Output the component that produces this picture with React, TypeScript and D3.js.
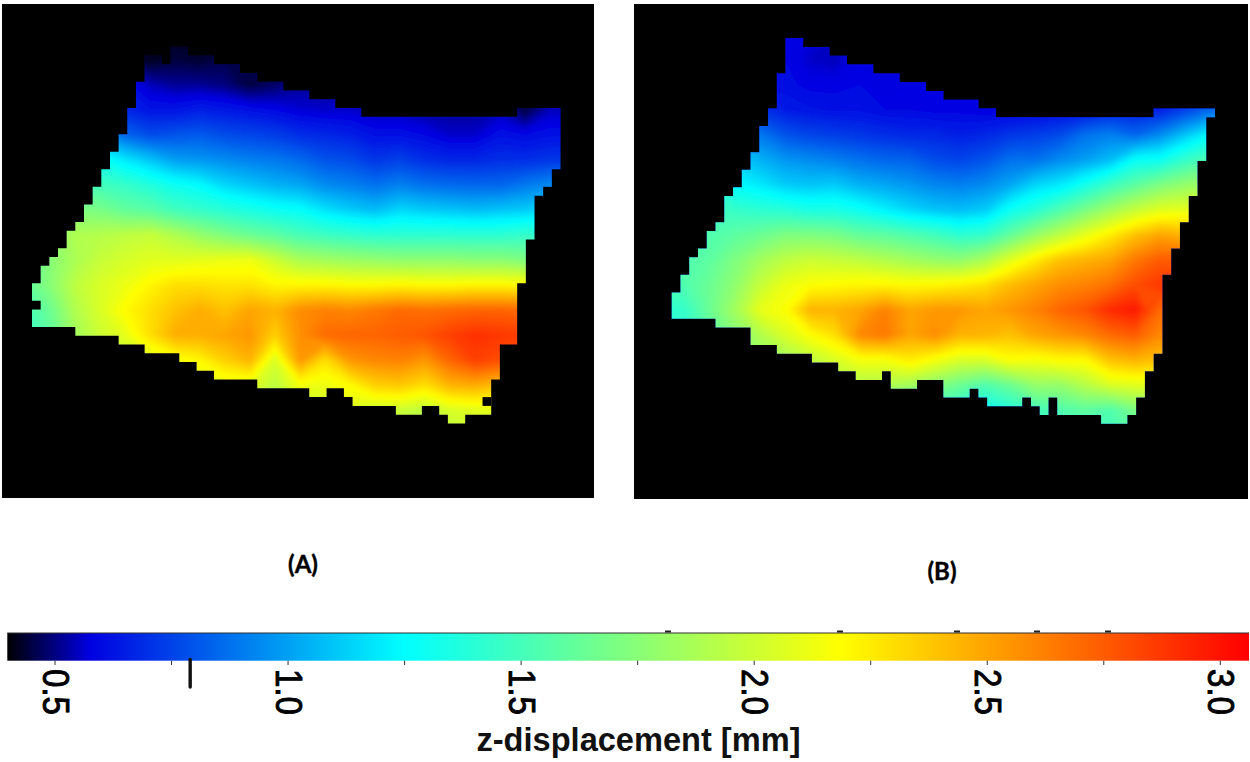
import React from 'react';
import * as d3 from 'd3';

// z-displacement, rows top to bottom
const gridRows = [35, 60, 85, 110, 135, 160, 185, 210, 235, 260, 285, 310, 335, 360, 385, 410, 435];
const gridColsA = d3.range(25, 576, 25);
const gridColsB = d3.range(660, 1236, 25);

const valuesA = [
  [.45,.45,.45,.45,.45,.44,.43,.42,.44,.46,.48,.5,.5,.5,.5,.5,.5,.5,.5,.5,.5,.5,.5],
  [.5,.5,.5,.5,.5,.42,.45,.44,.46,.46,.48,.5,.5,.5,.5,.5,.5,.5,.5,.5,.5,.5,.5],
  [.8,.8,.8,.7,.62,.55,.52,.52,.5,.45,.48,.52,.52,.52,.5,.5,.5,.5,.5,.5,.48,.5,.5],
  [1,1,.95,.85,.68,.63,.63,.66,.64,.62,.6,.57,.56,.56,.54,.54,.52,.52,.52,.54,.45,.55,.55],
  [1.2,1.2,1.1,1,.85,.78,.8,.82,.78,.76,.74,.7,.68,.66,.62,.62,.6,.56,.56,.62,.6,.62,.62],
  [1.4,1.4,1.35,1.3,1.2,1.1,1,.98,.95,.92,.9,.86,.8,.78,.72,.75,.7,.68,.68,.7,.7,.72,.72],
  [1.6,1.6,1.55,1.5,1.45,1.38,1.3,1.25,1.15,1.1,1.05,1.02,.95,.92,.88,.92,.88,.86,.85,.85,.9,.95,.95],
  [1.7,1.7,1.72,1.7,1.62,1.58,1.5,1.45,1.4,1.35,1.3,1.27,1.18,1.12,1.08,1.15,1.12,1.1,1.08,1.1,1.12,1.15,1.15],
  [1.75,1.75,1.9,1.92,1.95,1.98,1.9,1.8,1.72,1.65,1.6,1.52,1.48,1.45,1.42,1.42,1.42,1.42,1.42,1.42,1.45,1.45,1.45],
  [1.6,1.75,1.88,1.98,2.04,2.08,2.08,2.1,2.12,2.13,2,1.88,1.85,1.82,1.8,1.78,1.78,1.78,1.76,1.76,1.72,1.72,1.72],
  [1.6,1.75,1.95,2.05,2.12,2.22,2.3,2.3,2.28,2.28,2.22,2.22,2.22,2.2,2.2,2.22,2.2,2.2,2.22,2.22,2.2,2.1,2.1],
  [1.5,1.65,1.9,2.05,2.2,2.3,2.4,2.47,2.4,2.5,2.45,2.58,2.62,2.6,2.65,2.7,2.68,2.7,2.72,2.72,2.7,2.7,2.7],
  [1.45,1.6,1.85,2,2.1,2.3,2.47,2.47,2.5,2.55,2.35,2.58,2.7,2.72,2.72,2.75,2.78,2.85,2.9,2.88,2.85,2.85,2.85],
  [1.5,1.6,1.8,1.9,1.95,2.05,2.15,2.22,2.35,2.45,2.05,2.55,2.3,2.55,2.6,2.62,2.55,2.72,2.85,2.8,2.7,2.7,2.7],
  [1.9,1.9,1.9,1.9,1.9,1.9,1.95,2.05,2.1,2.1,1.95,2.15,2.12,2.2,2.35,2.38,2.3,2.45,2.48,2.4,2.4,2.4,2.4],
  [1.9,1.9,1.9,1.9,1.9,1.9,1.9,1.9,1.9,1.9,1.9,1.95,2,2.05,2,2,1.95,2.05,2.08,2.1,2.1,2.1,2.1],
  [1.9,1.9,1.9,1.9,1.9,1.9,1.9,1.9,1.9,1.9,1.9,1.9,1.9,1.9,1.9,1.9,1.9,1.95,2,2,2,2,2],
];

const valuesB = [
  [.6,.6,.6,.6,.6,.6,.58,.56,.58,.58,.58,.58,.58,.58,.58,.58,.58,.58,.58,.58,.58,.58,.58,.58],
  [.6,.6,.6,.6,.6,.6,.56,.55,.59,.59,.59,.59,.59,.59,.59,.59,.59,.59,.59,.59,.59,.59,.59,.59],
  [.8,.8,.8,.7,.62,.61,.59,.59,.6,.58,.59,.6,.6,.62,.62,.62,.62,.62,.62,.62,.62,.62,.62,.62],
  [1,1,.95,.85,.72,.65,.63,.62,.62,.6,.6,.59,.59,.58,.58,.59,.6,.62,.66,.66,.66,.75,.85,.85],
  [1.2,1.2,1.1,1,.9,.8,.76,.74,.72,.7,.68,.68,.66,.68,.72,.74,.78,.88,.92,.85,.95,1.1,1.25,1.25],
  [1.4,1.35,1.25,1.12,1.05,.98,.95,.92,.88,.85,.84,.78,.76,.8,.88,.88,.95,1,1.08,1.28,1.3,1.45,1.55,1.55],
  [1.55,1.5,1.45,1.25,1.2,1.12,1.1,1.12,1.05,1.02,.98,.94,.92,.95,1.02,1.15,1.2,1.33,1.48,1.6,1.72,1.8,1.85,1.85],
  [1.6,1.6,1.5,1.45,1.42,1.4,1.35,1.35,1.3,1.22,1.15,1.1,1.08,1.12,1.3,1.4,1.55,1.7,1.85,1.98,2.08,2.1,2.1,2.1],
  [1.6,1.6,1.55,1.6,1.65,1.72,1.72,1.7,1.62,1.6,1.55,1.5,1.42,1.45,1.62,1.8,1.95,2.1,2.25,2.4,2.5,2.45,2.45,2.45],
  [1.6,1.55,1.6,1.72,1.85,1.95,2,1.98,1.95,1.9,1.85,1.8,1.78,1.88,2.08,2.25,2.4,2.45,2.5,2.65,2.75,2.75,2.75,2.75],
  [1.5,1.55,1.65,1.78,1.98,2.12,2.18,2.2,2.22,2.22,2.2,2.22,2.25,2.3,2.42,2.5,2.58,2.62,2.68,2.8,2.88,2.85,2.85,2.85],
  [1.4,1.45,1.65,1.85,2.1,2.18,2.45,2.45,2.5,2.62,2.5,2.55,2.55,2.5,2.55,2.62,2.72,2.78,2.92,2.98,2.7,2.7,2.7,2.7],
  [1.4,1.45,1.6,1.75,1.9,2.05,2.18,2.3,2.6,2.65,2.5,2.58,2.45,2.45,2.4,2.5,2.55,2.6,2.7,2.75,2.6,2.6,2.6,2.6],
  [1.6,1.6,1.6,1.7,1.8,1.85,1.95,2.05,2.15,2.15,2.25,2.15,2.05,2.05,2.18,2.15,2.2,2.2,2.4,2.45,2.4,2.4,2.4,2.4],
  [1.7,1.7,1.7,1.7,1.8,1.8,1.85,1.9,1.9,1.9,1.85,1.75,1.65,1.55,1.65,1.8,1.8,1.92,2.05,2.08,2.1,2.1,2.1,2.1],
  [1.6,1.6,1.6,1.6,1.6,1.6,1.6,1.6,1.6,1.6,1.5,1.45,1.4,1.3,1.38,1.5,1.55,1.6,1.55,1.7,1.7,1.7,1.7,1.7],
  [1.5,1.5,1.5,1.5,1.5,1.5,1.5,1.5,1.5,1.5,1.4,1.35,1.35,1.3,1.35,1.4,1.45,1.5,1.5,1.6,1.6,1.6,1.6,1.6],
];

// shape of the measured area: first and last row per block column
const topA = [32,30,29,28,26,25,23,21,19,17,15,12,9,6,6,7,5,5,6,6,6,7,7,7,8,8,9,9,9,10,10,10,11,11,11,12,12,12,13,13,13,13,13,13,13,13,13,13,13,13,13,13,13,13,13,13,12,12,12,12,12];
const bottomA = [37,37,37,37,37,38,38,38,38,38,39,39,39,40,40,40,40,41,41,42,42,43,43,43,43,43,44,44,44,44,44,44,45,45,44,44,45,46,46,46,46,46,47,47,47,46,46,47,48,48,47,47,47,43,39,39,32,27,22,21,19];
const holesA = [[0, 34], [52, 45]];

const topB = [33,31,29,28,26,25,22,21,19,17,14,12,8,4,4,5,5,5,6,6,7,7,7,8,8,8,9,9,9,10,10,11,11,11,11,12,12,13,13,13,13,13,13,13,13,13,13,13,13,13,13,13,13,13,13,12,12,12,12,12,12,12];
const bottomB = [36,36,36,36,36,37,37,37,37,39,39,39,40,40,40,40,41,41,41,42,42,43,43,43,42,44,44,44,43,43,43,45,45,45,44,45,46,46,46,46,45,46,47,45,47,47,47,47,47,48,48,48,47,45,42,40,31,28,25,22,18,13];
const holesB: number[][] = [];

// colour bar
const zStops = [0.397, 0.575, 1.25, 2.185, 3.062];
const zColors = ['#000000', '#0000e1', '#00ffff', '#ffff00', '#ff0000'];
const majorTicks = [0.5, 1.0, 1.5, 2.0, 2.5, 3.0];
const minorTicks = [0.75, 1.25, 1.75, 2.25, 2.75];
const speckX = [668, 840, 957, 1037, 1108];
const strayTick = 0.79;

const levels = d3.range(0.4, 3.06, 0.008);

const color = d3.scaleLinear<string>().domain(zStops).range(zColors).interpolate(d3.interpolateRgb);
const barX = d3.scaleLinear().domain([0.5, 3.0]).range([55, 1220.3]);

const Heatmap = ({id, panel, cols, values, top, bottom, holes, colX, rowY, base}: any) => {
  const gx = d3.scaleLinear().domain([0, cols.length - 1]).range([cols[0], cols[cols.length - 1]]);
  const gy = d3.scaleLinear().domain([0, gridRows.length - 1]).range([gridRows[0], gridRows[gridRows.length - 1]]);
  const contours = d3.contours().size([cols.length, gridRows.length]).thresholds(levels)(values.flat());
  const path = d3.geoPath(d3.geoTransform({
    point(x, y) {
      this.stream.point(gx(x - 0.5), gy(y - 0.5));
    },
  }));

  // one outline for the whole shape, rects side by side left seams in the clip
  const outline = d3.path();
  outline.moveTo(colX(0), rowY(top[0]));
  top.forEach((t: number, c: number) => {
    outline.lineTo(colX(c), rowY(t));
    outline.lineTo(colX(c + 1), rowY(t));
  });
  for (let c = bottom.length - 1; c >= 0; c--) {
    outline.lineTo(colX(c + 1), rowY(bottom[c]));
    outline.lineTo(colX(c), rowY(bottom[c]));
  }
  outline.closePath();

  return (
    <g>
      <rect x={panel[0]} y={panel[1]} width={panel[2]} height={panel[3]} fill="#000" />
      <clipPath id={id}>
        <path d={outline.toString()} />
      </clipPath>
      <g clipPath={`url(#${id})`}>
        <rect x={panel[0]} y={panel[1]} width={panel[2]} height={panel[3]} fill={color(base)} />
        <g filter="url(#soft)">
          {contours.map((c, i) => (
            <path key={i} d={path(c) || ''} fill={color(c.value)} />
          ))}
        </g>
      </g>
      {holes.map((h: number[], i: number) => (
        <rect key={i} x={colX(h[0])} y={rowY(h[1])} width={colX(1) - colX(0)} height={rowY(1) - rowY(0)} fill="#000" />
      ))}
    </g>
  );
};

export default function App() {
  const colXA = d3.scaleLinear().domain([0, 61]).range([32, 560.5]);
  const colXB = d3.scaleLinear().domain([0, 62]).range([671.7, 1215]);
  const rowYA = d3.scaleLinear().domain([0, 48]).range([2.9, 423.4]);
  const rowYB = d3.scaleLinear().domain([0, 48]).range([3.3, 423.8]);

  return (
    <svg width={1250} height={762} style={{position: 'absolute', left: 0, top: 0, background: '#fff'}}>
      <defs>
        <filter id="soft" x="-5%" y="-5%" width="110%" height="110%">
          <feGaussianBlur stdDeviation="2" />
        </filter>
        <linearGradient id="bar" gradientUnits="userSpaceOnUse" x1={barX(zStops[0])} x2={barX(zStops[4])} y1={0} y2={0}>
          {zStops.map((z, i) => (
            <stop key={i} offset={(z - zStops[0]) / (zStops[4] - zStops[0])} stopColor={zColors[i]} />
          ))}
        </linearGradient>
      </defs>

      <Heatmap id="clipA" panel={[2, 4, 592, 494]} cols={gridColsA} values={valuesA} top={topA} bottom={bottomA} holes={holesA} colX={colXA} rowY={rowYA} base={0.45} />
      <Heatmap id="clipB" panel={[634, 4, 614, 495]} cols={gridColsB} values={valuesB} top={topB} bottom={bottomB} holes={holesB} colX={colXB} rowY={rowYB} base={0.6} />

      <text x={303} y={573} textAnchor="middle" fontFamily="Lato" fontWeight="700" fontSize={24} stroke="#000" strokeWidth={0.4} fill="#000">(A)</text>
      <text x={942} y={580} textAnchor="middle" fontFamily="Lato" fontWeight="700" fontSize={24} stroke="#000" strokeWidth={0.4} fill="#000">(B)</text>

      {/* colour bar */}
      <rect x={7.3} y={633} width={1241.7} height={27.7} fill="url(#bar)" />
      <line x1={7.3} x2={1249} y1={633} y2={633} stroke="#333" strokeWidth={1.2} />
      {speckX.map((x) => (
        <rect key={x} x={x - 3} y={630.5} width={6} height={2} fill="#222" />
      ))}
      {minorTicks.concat(majorTicks).map((t) => (
        <line key={t} x1={barX(t)} x2={barX(t)} y1={660.7} y2={665} stroke="#333" strokeWidth={1} />
      ))}
      <line x1={barX(strayTick)} x2={barX(strayTick)} y1={659.5} y2={687} stroke="#111" strokeWidth={3.4} strokeLinecap="round" />
      {majorTicks.map((t) => (
        <text
          key={t}
          transform={`translate(${barX(t) - 12},669) rotate(90)`}
          fontFamily="Liberation Sans"
          fontSize={36}
          textLength={46}
          lengthAdjust="spacingAndGlyphs"
          stroke="#000"
          strokeWidth={0.9}
          fill="#000"
        >
          {t.toFixed(1)}
        </text>
      ))}
      <text x={638.5} y={751} textAnchor="middle" fontFamily="Liberation Sans" fontWeight="700" fontSize={32.6} fill="#111">
        z-displacement [mm]
      </text>
    </svg>
  );
}
